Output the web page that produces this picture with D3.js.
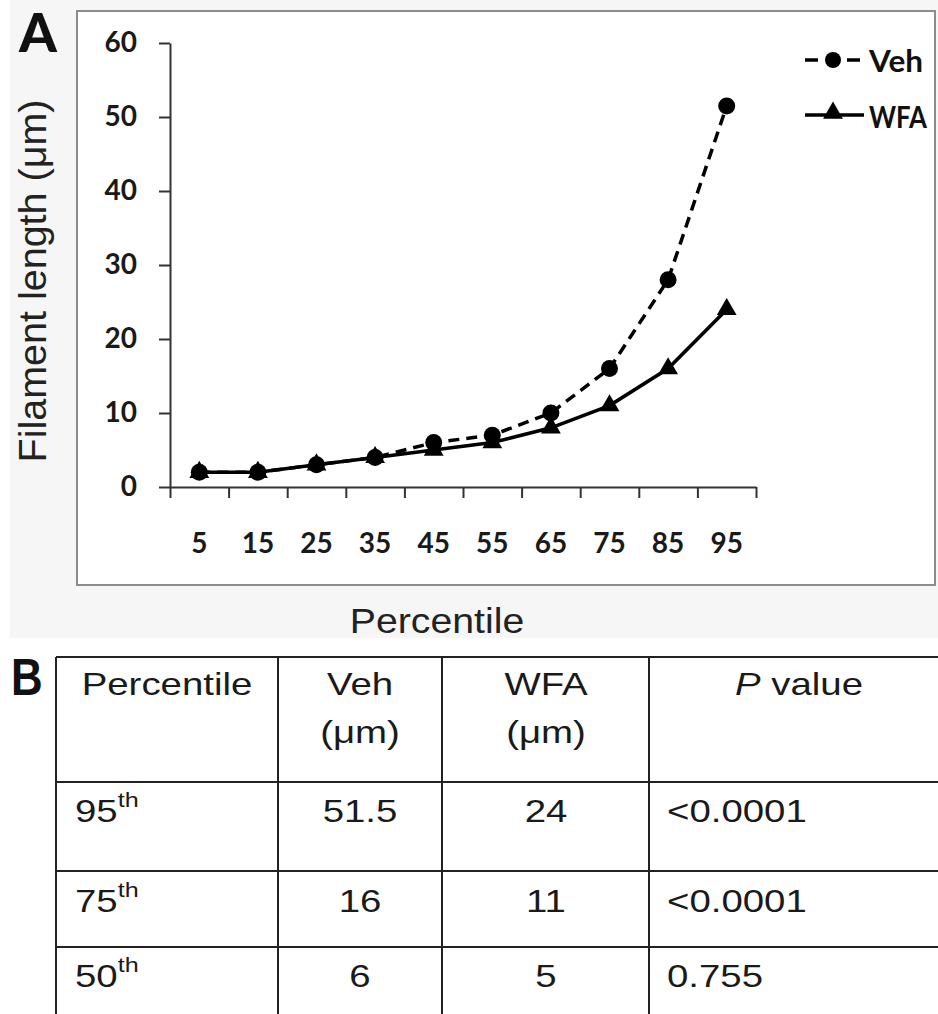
<!DOCTYPE html>
<html>
<head>
<meta charset="utf-8">
<script src="https://cdn.jsdelivr.net/npm/d3@7"></script>
<style>
  body{margin:0;background:#fff;}
  svg{display:block;}
</style>
</head>
<body>
<svg id="chart" width="938" height="1014"></svg>
<script>
// panel A data
const percentiles=['5','15','25','35','45','55','65','75','85','95'];
const vehValues=[2,2,3,4,6,7,10,16,28,51.5];
const wfaValues=[2,2,3,4,5,6,8,11,16,24];
const yTicks=[0,10,20,30,40,50,60];

// panel B table
const tableHeads=['Percentile','Veh','WFA','P value'];
const tableRank=['95','75','50'];
const tableVeh=['51.5','16','6'];
const tableWfa=['24','11','5'];
const tablePval=['<0.0001','<0.0001','0.755'];

const svg=d3.select('#chart');

// grey backdrop and white plot frame
svg.append('rect').attr('x',10).attr('y',0).attr('width',928).attr('height',638).attr('fill','#f6f6f6');
svg.append('rect').attr('x',77).attr('y',11).attr('width',858).attr('height',574)
  .attr('fill','#fff').attr('stroke','#8c8c8c').attr('stroke-width',2);

svg.append('text').attr('x',19).attr('y',52).text('A')
  .style('font-family','Lato').style('font-weight',900).style('font-size','54px').attr('fill','#111');

const xScale=d3.scaleBand().domain(percentiles).range([170,756]);
const xEdge=d3.scaleLinear().domain([0,percentiles.length]).range([170,756]);
const yScale=d3.scaleLinear().domain([0,60]).range([487,43]);
const cx=p=>xScale(p)+xScale.bandwidth()/2;

const tickFont=sel=>sel.selectAll('text')
  .style('font-family','Lato').style('font-weight',700).style('font-size','28px').attr('fill','#1a1a1a');

// y axis
const yAxis=svg.append('g').attr('transform','translate(170,0)')
  .call(d3.axisLeft(yScale).tickValues(yTicks).tickSize(11).tickSizeOuter(0).tickPadding(22));
yAxis.call(tickFont);
yAxis.selectAll('path,line').attr('stroke','#333').attr('stroke-width',2);

// x axis: boundary ticks + centred labels
const xTicks=svg.append('g').attr('transform','translate(0,487)')
  .call(d3.axisBottom(xEdge).ticks(percentiles.length).tickSize(11).tickSizeOuter(0).tickFormat(''));
xTicks.selectAll('path,line').attr('stroke','#333').attr('stroke-width',2);
const xLabels=svg.append('g').attr('transform','translate(0,487)')
  .call(d3.axisBottom(xScale).tickSize(0).tickPadding(46));
xLabels.select('.domain').remove();
xLabels.call(tickFont);

svg.append('text').attr('transform','translate(46,281) rotate(-90)')
  .attr('text-anchor','middle').text('Filament length (\u03bcm)')
  .style('font-family','Liberation Sans').style('font-size','39.5px').attr('fill','#222');
svg.append('text').attr('transform','translate(437,633) scale(1.09,1)')
  .attr('text-anchor','middle').text('Percentile')
  .style('font-family','Liberation Sans').style('font-size','36px').attr('fill','#222');

// lines
const line=vals=>d3.line().x((d,i)=>cx(percentiles[i])).y(d=>yScale(d))(vals);
svg.append('path').attr('d',line(wfaValues)).attr('fill','none')
  .attr('stroke','#000').attr('stroke-width',3.5);
svg.append('path').attr('d',line(vehValues)).attr('fill','none')
  .attr('stroke','#000').attr('stroke-width',3.5).attr('stroke-dasharray','11,7');

const tri=d3.symbol(d3.symbolTriangle,170);
svg.selectAll('.tri').data(wfaValues).enter().append('path').classed('tri',true)
  .attr('d',tri).attr('transform',(d,i)=>`translate(${cx(percentiles[i])},${yScale(d)})`)
  .attr('fill','#000');
svg.selectAll('.dot').data(vehValues).enter().append('circle').classed('dot',true)
  .attr('cx',(d,i)=>cx(percentiles[i])).attr('cy',d=>yScale(d)).attr('r',8.5)
  .attr('fill','#000');

// legend
const leg=svg.append('g');
leg.append('line').attr('x1',805).attr('x2',860).attr('y1',60).attr('y2',60)
  .attr('stroke','#000').attr('stroke-width',3.5).attr('stroke-dasharray','13,29');
leg.append('circle').attr('cx',833).attr('cy',60).attr('r',8).attr('fill','#000');
leg.append('line').attr('x1',805).attr('x2',864).attr('y1',115).attr('y2',115)
  .attr('stroke','#000').attr('stroke-width',3.5);
leg.append('path').attr('d',tri).attr('transform','translate(833,113)').attr('fill','#000');
[['Veh',72,54],['WFA',128,58]].forEach(([t,y,w])=>{
  leg.append('text').attr('x',869).attr('y',y).text(t)
    .attr('textLength',w).attr('lengthAdjust','spacingAndGlyphs')
    .style('font-family','Lato').style('font-weight',700).style('font-size','30px').attr('fill','#111');
});

// panel B
svg.append('text').attr('transform','translate(11,695) scale(0.86,1)').text('B')
  .style('font-family','Liberation Sans').style('font-weight',700).style('font-size','51px').attr('fill','#111');

const colX=[56,278,442,649,949];
const rowY=[657,782,871,947,1040];
const grid=svg.append('g').attr('stroke','#222').attr('stroke-width',2);
colX.forEach(x=>grid.append('line').attr('x1',x).attr('x2',x).attr('y1',rowY[0]).attr('y2',rowY[rowY.length-1]));
rowY.forEach(y=>grid.append('line').attr('x1',colX[0]).attr('x2',colX[colX.length-1]).attr('y1',y).attr('y2',y));

const cell=(x,y,anchor)=>svg.append('text').attr('transform',`translate(${x},${y}) scale(1.2,1)`)
  .attr('text-anchor',anchor).style('font-family','Liberation Sans').style('font-size','32px').attr('fill','#1a1a1a');

cell(167,695,'middle').text(tableHeads[0]);
cell(360,695,'middle').text(tableHeads[1]);
cell(360,743,'middle').text('(\u03bcm)');
cell(546,695,'middle').text(tableHeads[2]);
cell(546,743,'middle').text('(\u03bcm)');
const pv=cell(799,695,'middle');
pv.append('tspan').style('font-style','italic').text(tableHeads[3].split(' ')[0]);
pv.append('tspan').text(' '+tableHeads[3].split(' ')[1]);

const baseY=[822,912,987];
tableRank.forEach((r,i)=>{
  const t=cell(75,baseY[i],'start');
  t.append('tspan').text(r);
  t.append('tspan').attr('dy',-15).style('font-size','21px').text('th');
  cell(360,baseY[i],'middle').text(tableVeh[i]);
  cell(546,baseY[i],'middle').text(tableWfa[i]);
  cell(667,baseY[i],'start').text(tablePval[i]);
});
</script>
</body>
</html>
